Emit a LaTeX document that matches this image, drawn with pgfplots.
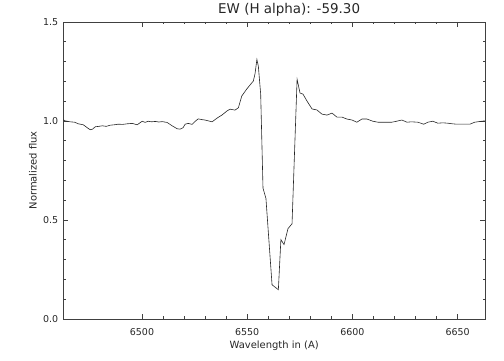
\documentclass[border=0pt]{standalone}
\usepackage{fontspec}
\setmainfont{DejaVu Sans}
\usepackage{pgfplots}
\pgfplotsset{compat=1.18}
\begin{document}
\begin{tikzpicture}
\begin{axis}[
  scale only axis,
  width=421.7bp, height=297bp,
  xmin=6462.6, xmax=6663, ymin=0, ymax=1.5,
  xtick={6500,6550,6600,6650},
  ytick={0,0.5,1,1.5},
  minor x tick num=4, minor y tick num=4,
  tick align=inside,
  major tick length=5bp, minor tick length=2.5bp,
  axis line style={black!75, line width=0.6bp},
  every tick/.style={black!75, line width=0.6bp},
  /pgf/number format/assume math mode=true,
  xticklabel style={/pgf/number format/1000 sep={}, inner sep=0pt, yshift=-9bp, font=\fontsize{9.5}{11}\selectfont, text=black!85},
  yticklabel style={/pgf/number format/.cd, fixed, fixed zerofill, precision=1, /tikz/.cd, inner sep=0pt, xshift=-5bp, font=\fontsize{9.5}{11}\selectfont, text=black!85},
  title={EW (H alpha): -59.30},
  every axis title/.style={at={(axis description cs:0.5,1)}, anchor=center, yshift=12bp, xshift=15bp, font=\fontsize{13.5}{15}\selectfont, text=black!85},
  xlabel={Wavelength in (A)},
  every axis x label/.style={at={(axis description cs:0.5,0)}, anchor=center, yshift=-26.5bp, font=\fontsize{10}{12}\selectfont, text=black!85},
  ylabel={Normalized flux},
  every axis y label/.style={at={(axis description cs:0,0.5)}, anchor=center, rotate=90, yshift=30.3bp, font=\fontsize{10}{12}\selectfont, text=black!85},
]
\addplot[black!85, line width=0.6bp, sharp plot, no markers] table {
x y
6462.6 1.005
6463.5 1.000
6465.9 0.995
6468.0 0.993
6469.7 0.985
6472.1 0.980
6474.0 0.965
6475.4 0.955
6476.5 0.958
6477.8 0.970
6479.5 0.972
6481.1 0.975
6483.0 0.972
6484.9 0.978
6486.8 0.980
6488.7 0.983
6490.8 0.982
6493.0 0.985
6495.4 0.987
6497.7 0.980
6500.1 0.998
6501.5 0.992
6502.9 0.998
6504.5 0.995
6506.3 0.997
6508.0 0.994
6509.6 0.996
6511.9 0.992
6514.3 0.975
6516.7 0.960
6518.1 0.958
6519.5 0.965
6520.5 0.983
6522.0 0.987
6523.8 0.982
6525.0 0.995
6526.7 1.010
6528.5 1.006
6530.0 1.004
6531.5 1.000
6533.3 0.995
6535.7 1.014
6538.1 1.030
6540.4 1.050
6541.9 1.059
6544.2 1.054
6545.8 1.066
6547.4 1.125
6549.8 1.161
6552.9 1.201
6553.7 1.237
6554.6 1.310
6555.3 1.275
6556.4 1.135
6557.5 0.660
6558.9 0.608
6561.8 0.172
6564.8 0.147
6566.0 0.400
6567.5 0.375
6569.4 0.456
6571.3 0.480
6573.7 1.210
6575.1 1.140
6576.5 1.135
6578.4 1.100
6580.8 1.060
6583.1 1.055
6585.5 1.034
6587.9 1.029
6590.3 1.039
6592.6 1.019
6595.0 1.019
6597.4 1.009
6599.8 1.004
6602.1 0.993
6604.5 1.009
6606.9 1.009
6609.7 0.998
6612.1 0.993
6614.5 0.993
6616.9 0.993
6618.7 0.993
6621.0 0.998
6623.5 1.004
6625.9 0.993
6628.0 0.995
6631.1 0.993
6633.9 0.983
6635.8 0.993
6638.2 0.998
6640.6 0.988
6643.0 0.990
6645.3 0.988
6647.5 0.985
6649.6 0.983
6652.4 0.983
6655.8 0.983
6658.1 0.993
6661.5 0.998
6662.9 1.000
};
\end{axis}
\path ([shift={(-63.3bp,-41.5bp)}]current axis.south west) rectangle ([shift={(19bp,21.5bp)}]current axis.north east);
\end{tikzpicture}
\end{document}
